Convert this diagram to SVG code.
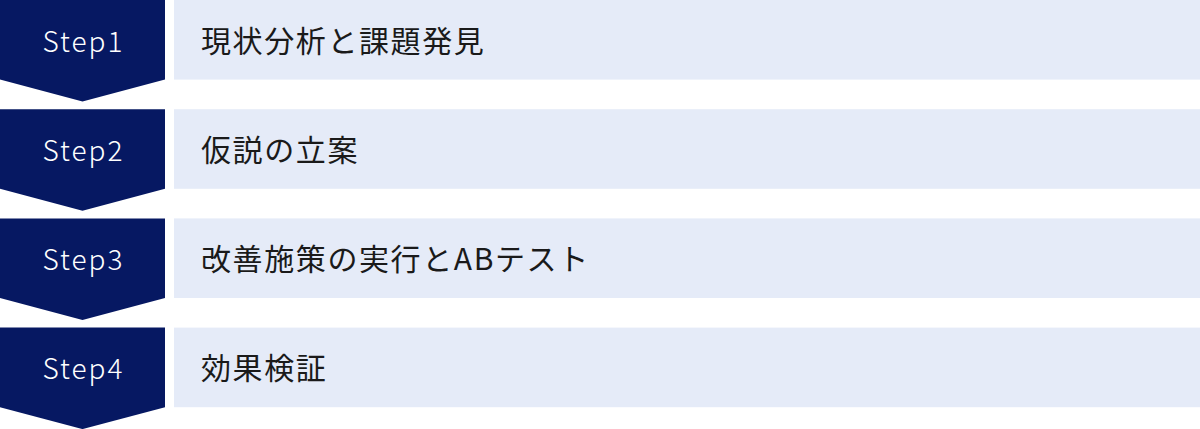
<svg xmlns="http://www.w3.org/2000/svg" width="1200" height="429" viewBox="0 0 1200 429">
<defs>
<style>
.chev{fill:#061862;}
.box{fill:#E5EBF8;}
.step{font-family:"Noto Sans CJK JP","Noto Sans",sans-serif;font-size:28px;font-weight:300;fill:#FFFFFF;text-anchor:middle;letter-spacing:2px;}
.label{font-family:"Noto Sans CJK JP","Noto Sans",sans-serif;font-size:30px;fill:#1A1A1A;letter-spacing:1.6px;}
</style>
<path id="chevShape" d="M0 0 H165 V79.6 L82.5 101.5 L0 79.6 Z"/>
</defs>
<rect width="1200" height="429" fill="#FFFFFF"/>
<g id="step1" transform="translate(0,0)">
<use href="#chevShape" class="chev"/>
<rect class="box" x="174" y="0" width="1026" height="79.6"/>
<text class="step" x="83.5" y="51.5">Step1</text>
<text class="label" x="201" y="51.5">現状分析と課題発見</text>
</g>
<g id="step2" transform="translate(0,109.2)">
<use href="#chevShape" class="chev"/>
<rect class="box" x="174" y="0" width="1026" height="79.6"/>
<text class="step" x="83.5" y="51.5">Step2</text>
<text class="label" x="201" y="51.5">仮説の立案</text>
</g>
<g id="step3" transform="translate(0,218.4)">
<use href="#chevShape" class="chev"/>
<rect class="box" x="174" y="0" width="1026" height="79.6"/>
<text class="step" x="83.5" y="51.5">Step3</text>
<text class="label" x="201" y="51.5">改善施策の実行とABテスト</text>
</g>
<g id="step4" transform="translate(0,327.6)">
<use href="#chevShape" class="chev"/>
<rect class="box" x="174" y="0" width="1026" height="79.6"/>
<text class="step" x="83.5" y="51.5">Step4</text>
<text class="label" x="201" y="51.5">効果検証</text>
</g>
<g id="connectors"></g>
</svg>
